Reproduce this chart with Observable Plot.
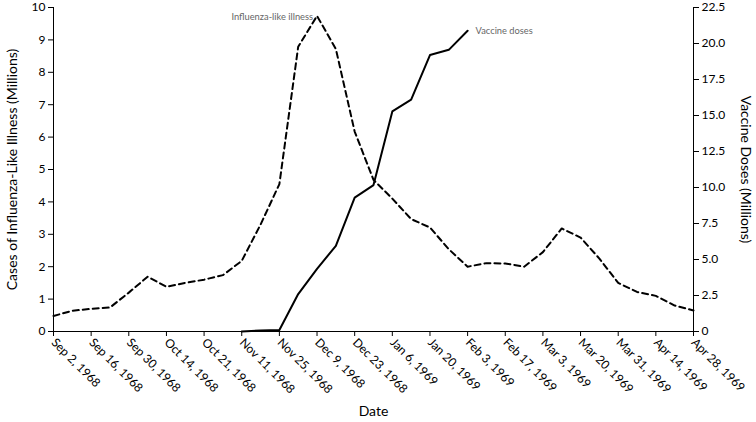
<!DOCTYPE html>
<html><head><meta charset="utf-8">
<script src="https://cdn.jsdelivr.net/npm/d3@7"></script>
<script src="https://cdn.jsdelivr.net/npm/@observablehq/plot@0.6"></script>
<style>body{margin:0;background:#fff} #chart svg{font-family:Lato, sans-serif; overflow:visible}</style>
</head><body><div id="chart"></div>
<script>
// weekly values, Sep 2, 1968 (week 0) to Apr 28, 1969 (week 34)
const iliCases = [0.48,0.64,0.70,0.74,1.20,1.69,1.38,1.50,1.60,1.74,
  2.18,3.30,4.55,8.79,9.74,8.72,6.17,4.68,4.10,3.47,
  3.21,2.54,2.00,2.11,2.10,2.00,2.45,3.18,2.90,2.25,
  1.50,1.22,1.10,0.80,0.65];
const vaccineDoses = [null,null,null,null,null,null,null,null,null,null,
  0,0.07,0.10,2.6,4.35,5.95,9.3,10.17,15.28,16.1,
  19.2,19.56,20.88,null,null,null,null,null,null,null,
  null,null,null,null,null];
const xTickLabels = ["Sep 2, 1968","Sep 16, 1968","Sep 30, 1968","Oct 14, 1968","Oct 21, 1968",
  "Nov 11, 1968","Nov 25, 1968","Dec 9, 1968","Dec 23, 1968","Jan 6, 1969","Jan 20, 1969",
  "Feb 3, 1969","Feb 17, 1969","Mar 3, 1969","Mar 20, 1969","Mar 31, 1969","Apr 14, 1969","Apr 28, 1969"];
const leftTicks = [0,1,2,3,4,5,6,7,8,9,10];
const rightTicks = [0,2.5,5,7.5,10,12.5,15,17.5,20,22.5];
const leftMax = 10, rightMax = 22.5;
const seriesLabels = ["Influenza-like illness","Vaccine doses"];

const k = leftMax / rightMax;
const ili = iliCases.map((v, i) => ({week: i, v}));
const vac = vaccineDoses.map((v, i) => ({week: i, v})).filter(d => d.v != null);
const lastWeek = iliCases.length - 1;
const tickWeeks = xTickLabels.map((_, i) => i * 2);
const peak = ili.reduce((a, b) => b.v > a.v ? b : a);
const vacEnd = vac[vac.length - 1];

const chart = Plot.plot({
  width: 756, height: 422,
  marginLeft: 53, marginRight: 63, marginTop: 7, marginBottom: 91,
  style: {fontSize: "12px", fontFamily: "Lato, sans-serif", color: "#000"},
  x: {domain: [0, lastWeek]},
  y: {domain: [0, leftMax]},
  marks: [
    Plot.ruleX([0], {y1: 0, y2: leftMax, stroke: "#000"}),
    Plot.ruleX([lastWeek], {y1: 0, y2: leftMax, stroke: "#000"}),
    Plot.ruleY([0], {x1: 0, x2: lastWeek, stroke: "#000"}),
    Plot.axisY({anchor: "left", ticks: leftTicks, tickSize: 5, tickPadding: 3, label: null, tickFormat: d3.format("d")}),
    Plot.axisY({anchor: "right", ticks: rightTicks.map(t => t * k), tickSize: 5, tickPadding: 3, label: null,
      tickFormat: d => { const t = Math.round(d / k * 10) / 10; return t === 0 ? "0" : t.toFixed(1); }}),
    Plot.axisX({ticks: tickWeeks, tickSize: 5, tickPadding: 4, tickRotate: 45, label: null,
      tickFormat: d => xTickLabels[Math.round(d / 2)]}),
    Plot.text(["Cases of Influenza-Like Illness (Millions)"], {frameAnchor: "left", textAnchor: "middle", rotate: -90, dx: -41, fontSize: 14}),
    Plot.text(["Vaccine Doses (Millions)"], {frameAnchor: "right", textAnchor: "middle", rotate: 90, dx: 52, fontSize: 14}),
    Plot.text(["Date"], {frameAnchor: "bottom", dy: 84, fontSize: 14}),
    Plot.line(ili, {x: "week", y: "v", stroke: "#000", strokeWidth: 2, strokeDasharray: "6,4"}),
    Plot.line(vac, {x: "week", y: d => d.v * k, stroke: "#000", strokeWidth: 2}),
    Plot.text([peak], {x: "week", y: "v", text: () => seriesLabels[0], textAnchor: "end", dx: -4, dy: 1, fill: "#666", fontSize: 9.3}),
    Plot.text([vacEnd], {x: "week", y: d => d.v * k, text: () => seriesLabels[1], textAnchor: "start", dx: 8, dy: 0, fill: "#666", fontSize: 9.3})
  ]
});
document.getElementById("chart").appendChild(chart);
</script>
</body></html>
